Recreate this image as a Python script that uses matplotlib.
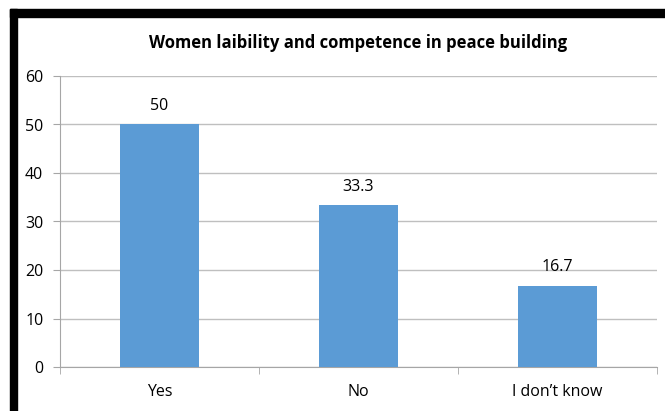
import matplotlib.pyplot as plt
from matplotlib.patches import Rectangle

categories = ['Yes', 'No', 'I don\u2019t know']
values = [50, 33.3, 16.7]
value_labels = ['50', '33.3', '16.7']
yticks = [0, 10, 20, 30, 40, 50, 60]

W, H = 665, 411
fig = plt.figure(figsize=(W / 100, H / 100), dpi=100)
plt.rcParams['font.family'] = ['Open Sans', 'DejaVu Sans']

# black frame bits (top band and left band)
fig.patches.append(Rectangle((10 / W, 1 - 17 / H), 1, 8 / H, transform=fig.transFigure,
                             color='black', zorder=0))
fig.patches.append(Rectangle((10 / W, 0), 7 / W, 1 - 9 / H, transform=fig.transFigure,
                             color='black', zorder=0))

ax = fig.add_axes([60 / W, 1 - 367 / H, (657 - 60) / W, (367 - 76) / H])
x = range(len(categories))
ax.bar(x, values, width=0.4, color='#5B9BD5', zorder=3)
for xi, v, lab in zip(x, values, value_labels):
    ax.text(xi, v + 2.2, lab, ha='center', va='bottom', fontsize=11.5, color='#000000')

ax.set_xlim(-0.5, 2.5)
ax.set_ylim(0, 60)
ax.set_yticks(yticks)
ax.set_yticklabels([str(t) for t in yticks], fontsize=11.5)
ax.set_xticks(list(x))
ax.set_xticklabels(categories, fontsize=11.5)
ax.set_xticks([-0.5, 0.5, 1.5, 2.5], minor=True)
ax.tick_params(axis='x', which='major', length=0, pad=12)
ax.tick_params(axis='x', which='minor', length=5, color='#A6A6A6', direction='out')
ax.tick_params(axis='y', length=5, color='#A6A6A6', pad=7)
ax.grid(axis='y', color='#BFBFBF', linewidth=1, zorder=0)
for s in ['top', 'right']:
    ax.spines[s].set_visible(False)
ax.spines['left'].set_color('#A6A6A6')
ax.spines['bottom'].set_color('#A6A6A6')

fig.text((60 + 657) / 2 / W, 1 - 43 / H, 'Women laibility and competence in peace building',
         ha='center', va='center', fontsize=12, fontweight='bold')

fig.savefig('out.png', dpi=100)
